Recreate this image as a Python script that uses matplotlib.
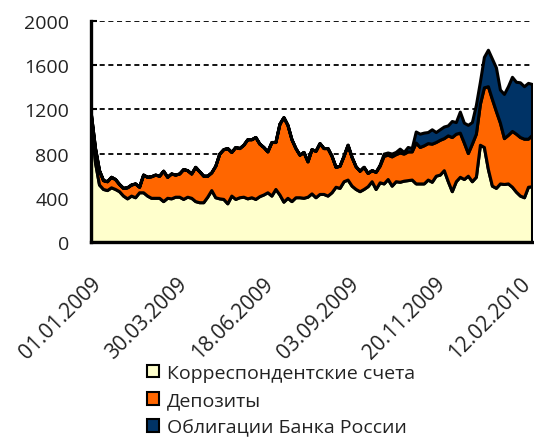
import numpy as np
import matplotlib
matplotlib.use("Agg")
import matplotlib.pyplot as plt
import matplotlib.transforms as mtransforms
from matplotlib.patches import Patch

plt.rcParams["font.family"] = ["Open Sans", "DejaVu Sans"]

# ---- data (bn rub), one sample every ~2.6 trading days ----
corr_accounts = [
    1100, 720, 520, 480, 470, 495, 480, 460, 420, 395,
    420, 405, 450, 450, 420, 400, 400, 400, 370, 400,
    395, 410, 410, 390, 410, 400, 370, 360, 360, 410,
    470, 405, 395, 390, 350, 420, 390, 405, 410, 395,
    405, 390, 415, 430, 450, 420, 480, 430, 365, 400,
    370, 405, 405, 400, 410, 440, 405, 435, 435, 420,
    450, 500, 490, 550, 565, 510, 480, 460, 480, 505,
    550, 480, 540, 530, 570, 510, 550, 545, 555, 560,
    565, 530, 530, 530, 565, 545, 600, 610, 650, 550,
    460, 550, 590, 570, 600, 550, 590, 880, 860, 660,
    510, 490, 530, 525, 530, 500, 455, 420, 405, 500, 505,
]
deposits = [
    50, 130, 130, 80, 80, 95, 90, 65, 70, 100,
    100, 125, 50, 160, 170, 195, 210, 200, 275, 190,
    225, 200, 210, 270, 240, 220, 310, 280, 240, 190,
    160, 285, 405, 450, 500, 395, 470, 445, 470, 535,
    525, 560, 475, 430, 370, 485, 425, 640, 765, 660,
    560, 445, 385, 415, 320, 400, 420, 460, 415, 430,
    330, 180, 200, 230, 315, 260, 205, 185, 200, 120,
    100, 155, 150, 250, 220, 265, 245, 265, 245, 260,
    255, 370, 330, 345, 330, 345, 305, 315, 290, 415,
    490, 430, 400, 330, 205, 340, 390, 370, 540, 750,
    785, 695, 550, 415, 440, 505, 525, 530, 530, 435, 465,
]
cbr_bonds = [0] * 72 + [
    10, 20, 20, 25, 20, 35, 15, 40,
    30, 100, 120, 115, 100, 130, 90, 95, 105, 90,
    145, 105, 190, 180, 255, 195, 260, 200, 275, 330,
    365, 395, 300, 400, 440, 490, 470, 495, 475, 505, 460,
]

tick_labels = ["01.01.2009", "30.03.2009", "18.06.2009",
               "03.09.2009", "20.11.2009", "12.02.2010"]
tick_days = [0, 55, 110, 165, 220, 275]
names = ["Корреспондентские счета", "Депозиты", "Облигации Банка России"]
colors = ["#FFFFCC", "#FF6600", "#003366"]

days = np.arange(len(corr_accounts)) * 2.57   # trading-day index

# ---- figure ----
fig = plt.figure(figsize=(5.34, 4.39), dpi=100)
ax = fig.add_axes([91 / 534, 1 - 243 / 439, 441 / 534, 221 / 439])

ax.stackplot(days, corr_accounts, deposits, cbr_bonds, colors=colors,
             edgecolor="black", linewidth=2.2, joinstyle="round")

ax.set_xlim(0, days[-1])
ax.set_ylim(0, 2000)
ax.set_yticks(range(0, 2001, 400))
ax.set_xticks(tick_days)
ax.set_xticklabels(tick_labels, rotation=45, ha="right", va="top",
                   rotation_mode="anchor", fontsize=15, color="#222222")
shift = mtransforms.ScaledTranslation(-7 / 100, 0, fig.dpi_scale_trans)
for lbl in ax.get_xticklabels():
    lbl.set_transform(lbl.get_transform() + shift)
ax.tick_params(axis="x", length=0, pad=22)
ax.tick_params(axis="y", direction="in", length=4, width=1.5, pad=16,
               labelsize=14, labelcolor="#222222")

ax.set_axisbelow(True)
ax.grid(axis="y", color="black", linestyle=(0, (2.8, 2)), linewidth=1.3)

for s in ["top", "right"]:
    ax.spines[s].set_visible(False)
for s in ["left", "bottom"]:
    ax.spines[s].set_linewidth(2.4)
    ax.spines[s].set_color("black")
    ax.spines[s].set_zorder(5)

handles = [Patch(facecolor=c, edgecolor="black", linewidth=1.5) for c in colors]
fig.legend(handles, names, loc="upper left",
           bbox_to_anchor=(147 / 534, 1 - 365 / 439), frameon=False,
           fontsize=14, handlelength=0.62, handleheight=0.62,
           handletextpad=0.42, labelspacing=0.47, borderpad=0,
           borderaxespad=0, labelcolor="#222222")

fig.savefig("out.png", dpi=100)
